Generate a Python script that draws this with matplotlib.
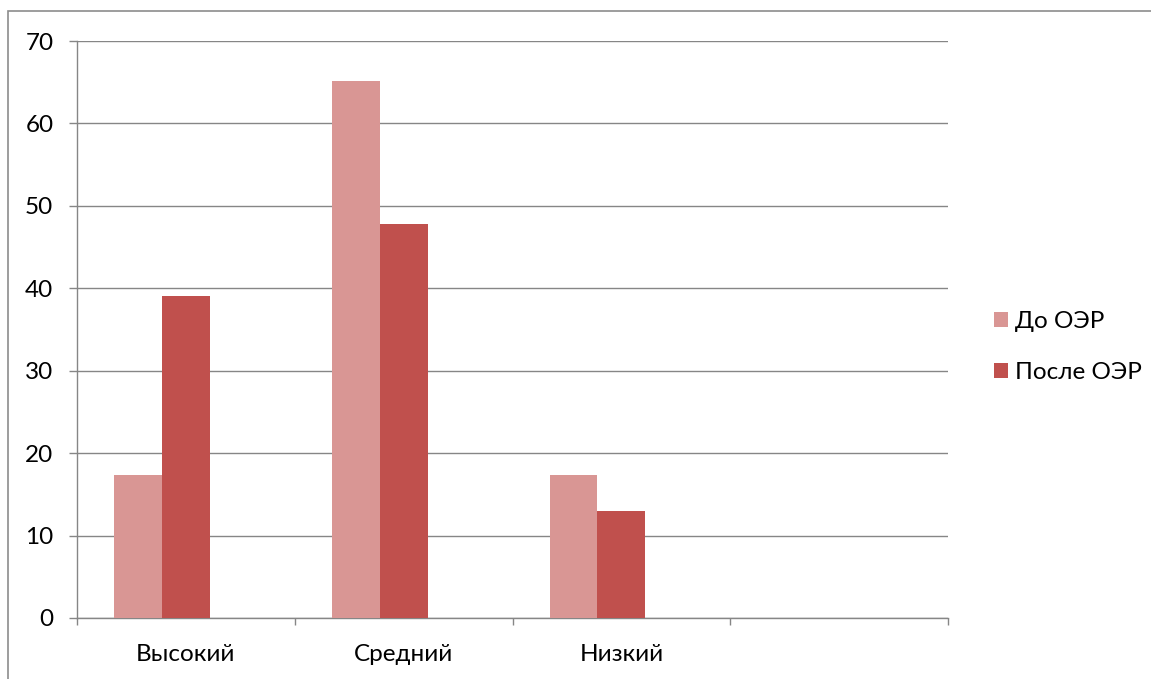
import numpy as np
import matplotlib.pyplot as plt
from matplotlib.patches import Rectangle

categories = ['Высокий', 'Средний', 'Низкий', '']
before = [17.4, 65.2, 17.4, 0]
after = [39.1, 47.8, 13.0, 0]
series_names = ['До ОЭР', 'После ОЭР']

plt.rcParams['font.family'] = ['Lato', 'DejaVu Sans']
fs = 17.5

fig = plt.figure(figsize=(11.51, 6.79), dpi=100)
# cadre extérieur du graphique
fig.patches.append(Rectangle((8 / 1151, -0.01), 1.2, 1 - 11 / 679 + 0.01,
                             transform=fig.transFigure, fill=False,
                             edgecolor='#8c8c8c', linewidth=1.2))

ax = fig.add_axes([77 / 1151, 1 - 618 / 679, 871 / 1151, 577 / 679])

x = np.arange(len(categories))
large = 0.22
# Excel place les barres comme s'il y avait une troisième série vide
ax.bar(x - large, before, large, color='#d99694', label=series_names[0], zorder=3)
ax.bar(x, after, large, color='#c0504d', label=series_names[1], zorder=3)

ax.set_xlim(-0.5, len(categories) - 0.5)
ax.set_ylim(0, 70)
ax.set_yticks(range(0, 71, 10))
ax.yaxis.grid(True, color='#868686', linewidth=1, zorder=0)

ax.set_xticks(x)
ax.set_xticklabels(categories, fontsize=fs)
ax.tick_params(axis='x', length=0, pad=19)
ax.set_xticks(np.arange(-0.5, len(categories)), minor=True)
ax.tick_params(axis='x', which='minor', length=5, color='#868686', width=1)
ax.tick_params(axis='y', length=6, color='#868686', width=1, labelsize=fs, pad=11)

for s in ['top', 'right']:
    ax.spines[s].set_visible(False)
for s in ['left', 'bottom']:
    ax.spines[s].set_color('#868686')
    ax.spines[s].set_linewidth(1)

ax.legend(loc='center left', bbox_to_anchor=(982 / 1151, 1 - 347 / 679),
          bbox_transform=fig.transFigure, frameon=False,
          fontsize=fs, handlelength=0.58, handleheight=0.58, handletextpad=0.28,
          labelspacing=1.25, borderpad=0)

fig.savefig('out.png', dpi=100)
